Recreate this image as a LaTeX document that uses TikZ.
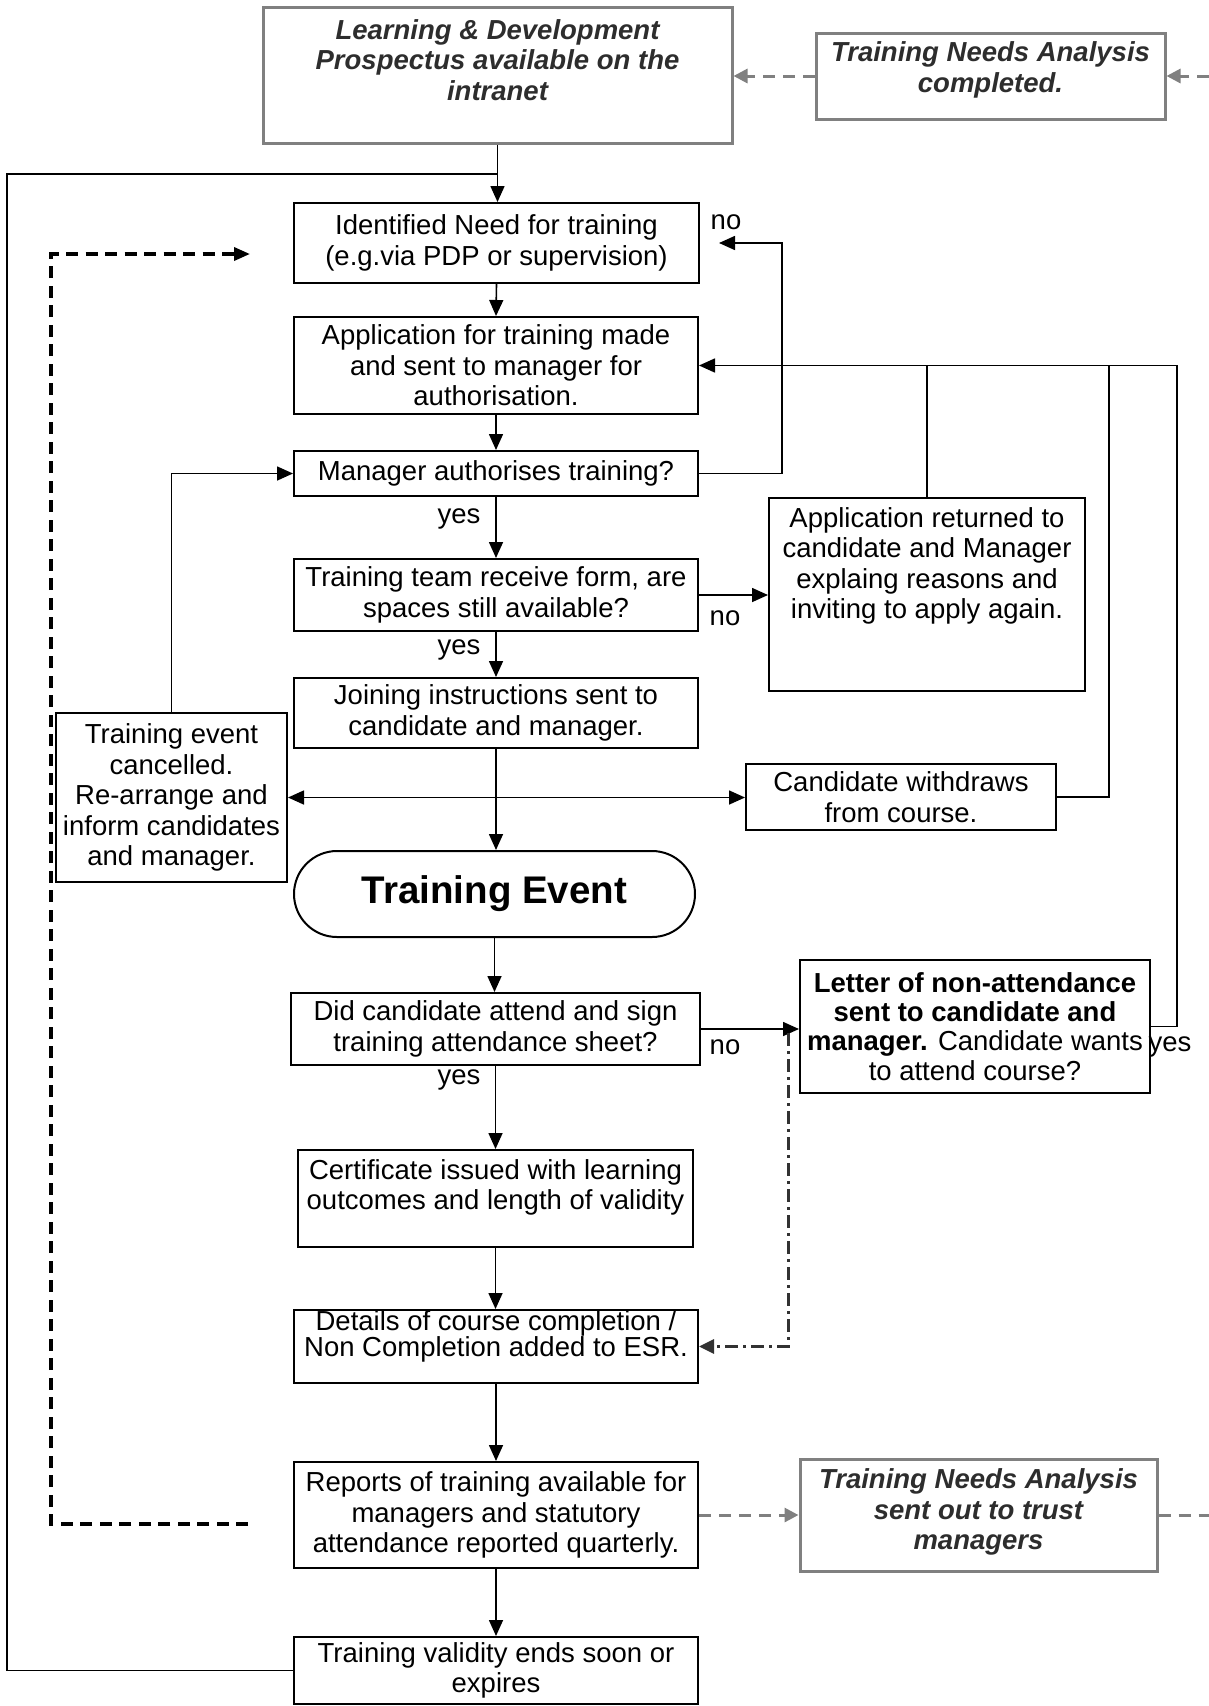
\documentclass[tikz,border=0pt]{standalone}
\usepackage{fontspec}
\setmainfont{Liberation Sans}
\usetikzlibrary{arrows.meta}
\definecolor{gline}{RGB}{128,128,128}
\definecolor{gtxt}{RGB}{45,45,45}
\definecolor{ddc}{RGB}{50,50,50}
\begin{document}
\begin{tikzpicture}[x=1pt,y=-1pt,
  every node/.style={font=\fontsize{27.5}{30.5}\selectfont, inner sep=2pt},
  box/.style={draw=black, line width=2pt, align=center},
  graybox/.style={draw=gline, line width=3pt},
  gtext/.style={align=center, text=gtxt, font=\fontsize{27.5}{30.5}\selectfont\bfseries\itshape},
  lbl/.style={inner sep=0pt},
  conn/.style={line width=1.6pt, draw=black},
  arr/.style={conn, -{Triangle[length=16pt,width=14pt]}},
  dblarr/.style={conn, {Triangle[length=16pt,width=14pt]}-{Triangle[length=16pt,width=14pt]}},
  garr/.style={draw=gline, line width=3pt, dash pattern=on 12pt off 8pt, -{Triangle[length=14pt,width=14pt]}},
  gline/.style={draw=gline, line width=3pt, dash pattern=on 12pt off 8pt},
  bdash/.style={draw=black, line width=3.5pt, dash pattern=on 12pt off 7.5pt, -{Triangle[length=16pt,width=13pt]}},
  ddarr/.style={draw=ddc, line width=3pt, dash pattern=on 13pt off 5pt on 3pt off 5pt, -{Triangle[length=15pt,width=14pt]}}
]
\useasboundingbox (0,0) rectangle (1209,1706);

% top gray boxes
\node[graybox, minimum width=469pt, minimum height=136pt] (ld) at (497.5,75) {};
\node[gtext] (ldt) at (497.5,60) {Learning \& Development\\Prospectus available on the\\intranet};
\node[graybox, minimum width=349pt, minimum height=86pt] (tnc) at (990.5,76) {};
\node[gtext] (tnct) at (990.5,70) {Training Needs Analysis\\completed.};

% main column
\node[box, minimum width=405pt, minimum height=80pt] (ident) at (496.5,243) {Identified Need for training\\(e.g.via PDP or supervision)};
\node[box, minimum width=404pt, minimum height=97pt] (app) at (496,365.5) {Application for training made\\and sent to manager for\\authorisation.};
\node[box, minimum width=404pt, minimum height=45pt] (mgr) at (496,473.5) {Manager authorises training?};
\node[box, minimum width=404pt, minimum height=72pt] (team) at (496,595) {Training team receive form, are\\spaces still available?};
\node[box, minimum width=316pt, minimum height=193pt] (ret) at (927,594.5) {};
\node[align=center] (rett) at (927,566) {Application returned to\\candidate and Manager\\explaing reasons and\\inviting to apply again.};
\node[box, minimum width=404pt, minimum height=70pt] (join) at (496,713) {Joining instructions sent to\\candidate and manager.};
\node[box, minimum width=231pt, minimum height=169pt] (canc) at (171.5,797.5) {Training event\\cancelled.\\Re-arrange and\\inform candidates\\and manager.};
\node[box, minimum width=310pt, minimum height=66pt] (wd) at (901,797) {Candidate withdraws\\from course.};
\node[draw=black, line width=2pt, rounded corners=43pt, minimum width=401pt, minimum height=86pt, font=\fontsize{38.5}{42}\selectfont\bfseries] (event) at (494.5,894) {Training Event};
\node[box, minimum width=409pt, minimum height=72pt] (did) at (495.5,1029) {Did candidate attend and sign\\training attendance sheet?};
\node[box, minimum width=350pt, minimum height=133pt, font=\fontsize{27.5}{29.3}\selectfont] (let) at (975,1026.5) {\textbf{Letter of non-attendance}\\\textbf{sent to candidate and}\\\textbf{manager.} Candidate wants\\to attend course?};
\node[box, minimum width=395pt, minimum height=97pt] (cert) at (495.5,1198.5) {};
\node[align=center] (certt) at (495.5,1187.5) {Certificate issued with learning\\outcomes and length of validity};
\node[box, minimum width=404pt, minimum height=73pt] (det) at (496,1346.5) {};
\node[align=center, font=\fontsize{27.5}{25}\selectfont] (dett) at (496,1336.5) {Details of course completion /\\Non Completion added to ESR.};
\node[box, minimum width=404pt, minimum height=106pt] (rep) at (496,1515) {Reports of training available for\\managers and statutory\\attendance reported quarterly.};
\node[graybox, minimum width=357pt, minimum height=112pt] (tns) at (978.5,1515) {};
\node[gtext] (tnst) at (978.5,1512) {Training Needs Analysis\\sent out to trust\\managers};
\node[box, minimum width=404pt, minimum height=67pt] (valid) at (496,1670.5) {Training validity ends soon or\\expires};

% labels
\node[lbl] (no1) at (726,222) {no};
\node[lbl] (yes1) at (459,519) {yes};
\node[lbl] (no2) at (725,618) {no};
\node[lbl] (yes2) at (459,650) {yes};
\node[lbl] (no3) at (725,1047) {no};
\node[lbl] (yes3) at (459,1080) {yes};
\node[lbl] (yes4) at (1170,1047) {yes};

% helper coordinates
\coordinate (rin) at (1209,76);
\coordinate (rout) at (1209,1515);
\coordinate (lc) at (7,174);
\coordinate (jt) at (497.5,174);
\coordinate (nx) at (782,0);
\coordinate (lx) at (1177,0);
\coordinate (wx) at (1109,0);
\coordinate (dd) at (788,1033);
\coordinate (dl1) at (248,1524);
\coordinate (dl2) at (51,1524);
\coordinate (dl3) at (51,254);
\coordinate (dl4) at (250,254);

% gray dashed
\draw[garr] (rin) -- (tnc.east);
\draw[garr] (tnc.west) -- (tnc.west -| ld.east);
\draw[garr] (rep.east) -- (rep.east -| tns.west);
\draw[gline] (tns.east) -- (rout);

% main flow
\draw[arr] (ld.south) -- (ld.south |- ident.north);
\draw[conn] (valid.west) -| (lc) -- (jt);
\draw[arr] (ident.south) -- (app.north);
\draw[arr] (app.south) -- (mgr.north);
\draw[arr] (mgr.south) -- (team.north);
\draw[arr] (team.south) -- (join.north);
\draw[arr] (join.south) -- (join.south |- event.north);
\draw[arr] (event.south) -- (event.south |- did.north);
\draw[arr] (did.south) -- (did.south |- cert.north);
\draw[arr] (cert.south) -- (cert.south |- det.north);
\draw[arr] (det.south) -- (rep.north);
\draw[arr] (rep.south) -- (valid.north);

% no loop from manager
\draw[arr, shorten >=19pt] (mgr.east) -| (ident.east -| nx) -- (ident.east);
% spaces not available
\draw[arr] (team.east) -- (team.east -| ret.west);
% returns to application
\draw[conn] (ret.north) -- (ret.north |- app.east);
\draw[conn] (wd.east) -| (app.east -| wx);
\draw[arr] (let.east) -| (app.east -| lx) -- (app.east);
% cancelled
\draw[arr] (canc.north) |- (mgr.west);
\draw[dblarr] (canc.east) -- (canc.east -| wd.west);
% non attendance
\draw[arr] (did.east) -- (did.east -| let.west);
\draw[ddarr] (dd) |- (det.east);
% dashed loop
\draw[bdash] (dl1) -- (dl2) -- (dl3) -- (dl4);
\end{tikzpicture}
\end{document}
